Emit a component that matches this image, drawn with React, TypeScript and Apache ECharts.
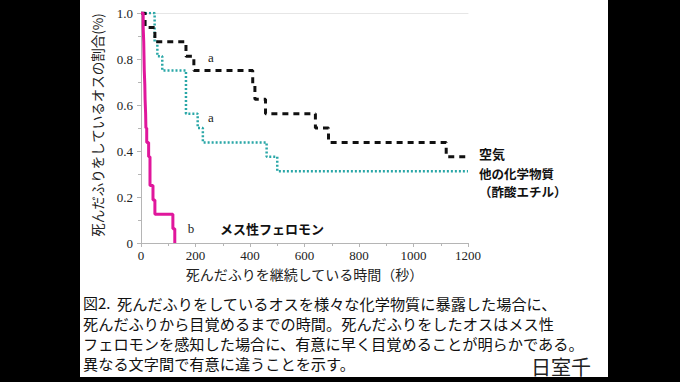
import React, { useEffect, useRef } from "react";
import * as echarts from "echarts";

// 空気 (air)
const airTimes = [0, 15, 51, 165, 194, 410, 418, 457, 640, 688, 1120, 1195];
const airValues = [1, 0.9375, 0.875, 0.8125, 0.75, 0.6875, 0.625, 0.5625, 0.5, 0.4375, 0.375, 0.375];
// 他の化学物質（酢酸エチル）
const chemTimes = [0, 50, 60, 78, 165, 208, 227, 461, 500, 1200];
const chemValues = [1, 0.875, 0.8125, 0.75, 0.5625, 0.5, 0.4375, 0.375, 0.3125, 0.3125];
// メス性フェロモン
const pherTimes = [0, 8, 10, 11, 12, 14, 15, 17, 18, 21, 28, 33, 44, 51, 117, 124];
const pherValues = [1, 0.9375, 0.875, 0.8125, 0.75, 0.6875, 0.625, 0.5625, 0.5, 0.4375, 0.375, 0.25, 0.1875, 0.125, 0.0625, 0];

const xTicks = { min: 0, max: 1200, interval: 200 };
const yTicks = { min: 0, max: 1, interval: 0.2 };

const yTitle = "死んだふりをしているオスの割合(%)";
const xTitle = "死んだふりを継続している時間（秒）";
const figLabel = "図2.";
const captionLines = [
  "死んだふりをしているオスを様々な化学物質に暴露した場合に、",
  "死んだふりから目覚めるまでの時間。死んだふりをしたオスはメス性",
  "フェロモンを感知した場合に、有意に早く目覚めることが明らかである。",
  "異なる文字間で有意に違うことを示す。",
];

const zip = (t: number[], v: number[]) => t.map((x, i) => [x, v[i]]);

export default function App() {
  const ref = useRef<HTMLDivElement>(null);
  useEffect(() => {
    if (!ref.current) return;
    const chart = echarts.init(ref.current, null, { renderer: "svg" });
    const serif = "'Liberation Serif', 'DejaVu Serif', serif";
    const jp = "'Noto Sans CJK JP', 'Noto Sans', sans-serif";
    const axisGray = "#b5b5b5";
    chart.setOption({
      animation: false,
      backgroundColor: "#ffffff",
      grid: { left: 141, top: 13, right: 212, bottom: 139, containLabel: false },
      xAxis: [
        {
          type: "value",
          min: xTicks.min,
          max: xTicks.max,
          interval: xTicks.interval,
          axisLine: { show: true, lineStyle: { color: axisGray, width: 1 } },
          axisTick: { show: true, length: 4, lineStyle: { color: axisGray } },
          minorTick: { show: true, splitNumber: 2, length: 3, lineStyle: { color: axisGray } },
          splitLine: { show: false },
          axisLabel: {
            color: "#222",
            fontFamily: serif,
            fontSize: 13,
            margin: 6,
            formatter: (v: number) => (v === 0 ? "0" : String(v)),
          },
          name: xTitle,
          nameLocation: "middle",
          nameGap: 23,
          nameTextStyle: { color: "#222", fontFamily: jp, fontSize: 14, verticalAlign: "top" },
        },
        {
          type: "value",
          position: "top",
          min: xTicks.min,
          max: xTicks.max,
          axisLine: { show: true, lineStyle: { color: "#e6e6e6", width: 1 } },
          axisTick: { show: false },
          axisLabel: { show: false },
          splitLine: { show: false },
        },
      ],
      yAxis: {
        type: "value",
        min: yTicks.min,
        max: yTicks.max,
        interval: yTicks.interval,
        axisLine: { show: true, lineStyle: { color: axisGray, width: 1 } },
        axisTick: { show: true, length: 4, lineStyle: { color: axisGray } },
        minorTick: { show: true, splitNumber: 2, length: 3, lineStyle: { color: axisGray } },
        splitLine: { show: false },
        axisLabel: {
          color: "#222",
          fontFamily: serif,
          fontSize: 13,
          margin: 8,
          formatter: (v: number) => (v === 0 ? "0" : v.toFixed(1)),
        },
      },
      series: [
        {
          type: "line",
          name: "空気",
          step: "end",
          showSymbol: false,
          symbol: "none",
          data: zip(airTimes, airValues),
          lineStyle: { color: "#111", width: 3, type: [6, 5], cap: "butt" },
          z: 3,
        },
        {
          type: "line",
          name: "他の化学物質（酢酸エチル）",
          step: "end",
          showSymbol: false,
          symbol: "none",
          data: zip(chemTimes, chemValues),
          lineStyle: { color: "#2aa7a7", width: 2.5, type: [2, 2], cap: "butt" },
          z: 2,
        },
        {
          type: "line",
          name: "メス性フェロモン",
          step: "end",
          showSymbol: false,
          symbol: "none",
          data: zip(pherTimes, pherValues),
          lineStyle: { color: "#e0179c", width: 3 },
          z: 4,
        },
      ],
      graphic: [
        { type: "rect", shape: { x: 0, y: 0, width: 80, height: 382 }, style: { fill: "#000" }, z: 100 },
        { type: "rect", shape: { x: 608, y: 0, width: 72, height: 382 }, style: { fill: "#000" }, z: 100 },
        { type: "rect", shape: { x: 0, y: 377, width: 680, height: 5 }, style: { fill: "#000" }, z: 100 },
        {
          type: "text",
          x: 97,
          y: 125,
          rotation: Math.PI / 2,
          style: { text: yTitle, font: `13.5px ${jp}`, fill: "#222", textAlign: "center", textVerticalAlign: "middle" },
        },
        { type: "text", x: 211, y: 57, style: { text: "a", font: `13px ${serif}`, fill: "#222", textAlign: "center", textVerticalAlign: "middle" } },
        { type: "text", x: 211, y: 117, style: { text: "a", font: `13px ${serif}`, fill: "#222", textAlign: "center", textVerticalAlign: "middle" } },
        { type: "text", x: 191, y: 228, style: { text: "b", font: `13px ${serif}`, fill: "#222", textAlign: "center", textVerticalAlign: "middle" } },
        { type: "text", x: 220, y: 228, style: { text: "メス性フェロモン", font: `bold 13px ${jp}`, fill: "#111", textVerticalAlign: "middle", lineHeight: 14 } },
        { type: "text", x: 479, y: 153, style: { text: "空気", font: `bold 13px ${jp}`, fill: "#111", textVerticalAlign: "middle", lineHeight: 14 } },
        { type: "text", x: 479, y: 173, style: { text: "他の化学物質", font: `bold 12.5px ${jp}`, fill: "#111", textVerticalAlign: "middle", lineHeight: 14 } },
        { type: "text", x: 479, y: 191.5, style: { text: "（酢酸エチル）", font: `bold 12.5px ${jp}`, fill: "#111", textVerticalAlign: "middle", lineHeight: 14 } },
        { type: "text", x: 83, y: 302.5, style: { text: figLabel, font: `15px ${jp}`, fill: "#111", textVerticalAlign: "middle", lineHeight: 17 } },
        ...captionLines.map((line, i) => ({
          type: "text",
          x: i === 0 ? 117 : 83,
          y: 302.5 + i * 20.3,
          style: { text: line, font: `15.2px ${jp}`, fill: "#111", textVerticalAlign: "middle", lineHeight: 17 },
        })),
        { type: "text", x: 531, y: 366, z: 50, style: { text: "日室千", font: `20px ${jp}`, fill: "#222", textVerticalAlign: "middle", lineHeight: 20 } },
      ],
    });
    return () => chart.dispose();
  }, []);
  return (
    <div
      ref={ref}
      style={{ position: "fixed", left: 0, top: 0, width: 680, height: 382 }}
    />
  );
}
